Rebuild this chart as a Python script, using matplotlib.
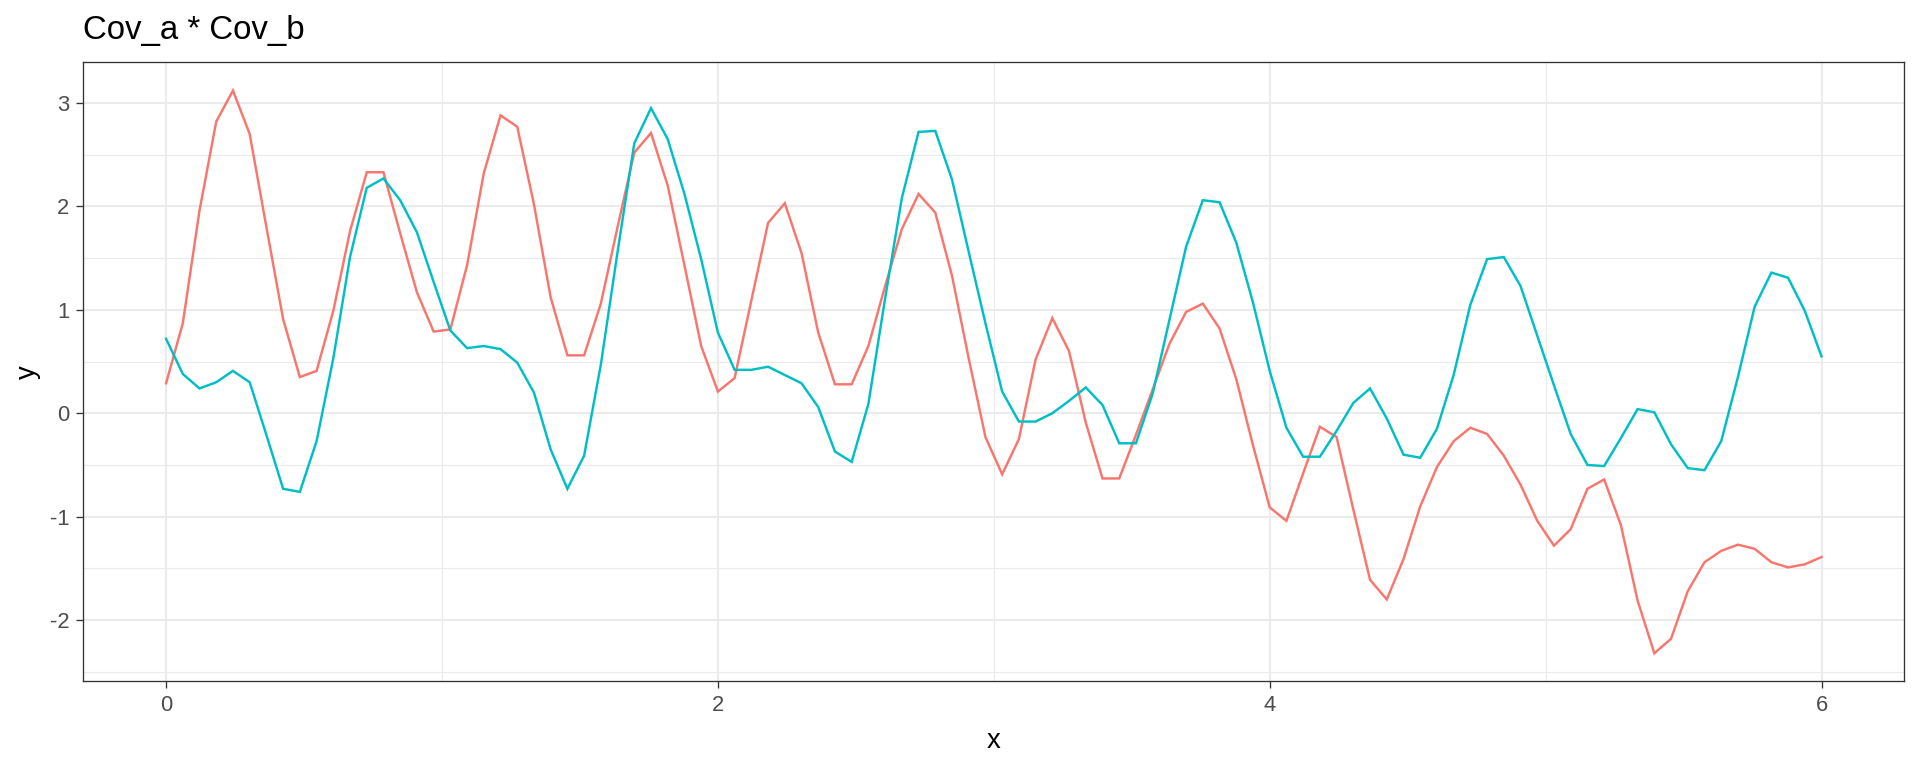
import numpy as np
import matplotlib
matplotlib.use("Agg")
import matplotlib.pyplot as plt

# ---- data ----
x_start, x_end, n_points = 0.0, 6.0, 100
x = np.linspace(x_start, x_end, n_points)

red_series = [
    0.29, 0.87, 1.96, 2.82, 3.12, 2.70, 1.80, 0.91, 0.35, 0.41,
    0.99, 1.76, 2.33, 2.33, 1.74, 1.17, 0.79, 0.81, 1.43, 2.32,
    2.88, 2.77, 2.02, 1.12, 0.56, 0.56, 1.06, 1.80, 2.52, 2.71,
    2.20, 1.43, 0.65, 0.21, 0.34, 1.09, 1.84, 2.03, 1.55, 0.78,
    0.28, 0.28, 0.65, 1.23, 1.78, 2.12, 1.94, 1.33, 0.53, -0.23,
    -0.59, -0.25, 0.52, 0.92, 0.60, -0.09, -0.63, -0.63, -0.21, 0.23,
    0.67, 0.98, 1.06, 0.82, 0.33, -0.31, -0.91, -1.04, -0.58, -0.13,
    -0.23, -0.93, -1.61, -1.80, -1.41, -0.90, -0.52, -0.27, -0.14, -0.20,
    -0.41, -0.69, -1.04, -1.28, -1.12, -0.73, -0.64, -1.08, -1.81, -2.32,
    -2.18, -1.72, -1.44, -1.33, -1.27, -1.31, -1.44, -1.49, -1.46, -1.39,
]

teal_series = [
    0.72, 0.38, 0.24, 0.30, 0.41, 0.30, -0.21, -0.73, -0.76, -0.27,
    0.53, 1.51, 2.18, 2.27, 2.06, 1.75, 1.27, 0.80, 0.63, 0.65,
    0.62, 0.49, 0.20, -0.35, -0.73, -0.41, 0.47, 1.56, 2.61, 2.95,
    2.65, 2.12, 1.49, 0.78, 0.42, 0.42, 0.45, 0.37, 0.29, 0.06,
    -0.37, -0.47, 0.09, 1.11, 2.08, 2.72, 2.73, 2.26, 1.56, 0.87,
    0.21, -0.08, -0.08, 0.00, 0.12, 0.25, 0.08, -0.29, -0.29, 0.19,
    0.90, 1.61, 2.06, 2.04, 1.65, 1.07, 0.41, -0.14, -0.42, -0.42,
    -0.17, 0.10, 0.24, -0.05, -0.40, -0.43, -0.15, 0.37, 1.05, 1.49,
    1.51, 1.23, 0.75, 0.27, -0.20, -0.50, -0.51, -0.24, 0.04, 0.01,
    -0.30, -0.53, -0.55, -0.27, 0.35, 1.03, 1.36, 1.31, 0.99, 0.55,
]

x_major_ticks = [0, 2, 4, 6]
x_minor_ticks = [1, 3, 5]
y_major_ticks = [-2, -1, 0, 1, 2, 3]
y_minor_ticks = [-2.5, -1.5, -0.5, 0.5, 1.5, 2.5]
title_text = "Cov_a * Cov_b"
x_label = "x"
y_label = "y"

# ---- style ----
plt.rcParams['font.family'] = ['Liberation Sans', 'DejaVu Sans']
plt.rcParams['axes.unicode_minus'] = False

fig = plt.figure(figsize=(19.2, 7.68), dpi=100)
W, H = 1920, 768
left, right, top, bottom = 83.3, 1904.3, 62.4, 681.4
ax = fig.add_axes([left / W, 1 - bottom / H, (right - left) / W, (bottom - top) / H])

ax.plot(x, red_series, color='#F8766D', lw=1.75, solid_joinstyle='miter', zorder=3)
ax.plot(x, teal_series, color='#00BFC4', lw=1.75, solid_joinstyle='miter', zorder=3)

x_span = x_end - x_start
ax.set_xlim(x_start - 0.05 * x_span, x_end + 0.05 * x_span)
all_y = np.concatenate([red_series, teal_series])
ymin, ymax = all_y.min(), all_y.max()
ax.set_ylim(ymin - 0.05 * (ymax - ymin), ymax + 0.05 * (ymax - ymin))

ax.set_xticks(x_major_ticks)
ax.set_xticks(x_minor_ticks, minor=True)
ax.set_yticks(y_major_ticks)
ax.set_yticks(y_minor_ticks, minor=True)
ax.set_xticklabels([str(t) for t in x_major_ticks])
ax.set_yticklabels([str(t) for t in y_major_ticks])

ax.grid(True, which='major', color='#EBEBEB', lw=1.5, zorder=0)
ax.grid(True, which='minor', color='#EBEBEB', lw=0.85, zorder=0)
ax.set_axisbelow(True)

for sp in ax.spines.values():
    sp.set_color('#333333')
    sp.set_linewidth(0.95)
    sp.set_zorder(4)

ax.tick_params(which='major', length=5.0, width=0.95, color='#333333',
               labelsize=15.8, labelcolor='#4D4D4D', pad=5.0)
ax.tick_params(which='minor', length=0)

ax.set_xlabel(x_label, fontsize=19.8, color='black')
ax.set_ylabel(y_label, fontsize=19.8, color='black')
ax.xaxis.label.set_va('baseline')
ax.xaxis.set_label_coords(0.5, -(748.3 - bottom) / (bottom - top))
ax.yaxis.label.set_va('baseline')
ax.yaxis.set_label_coords((35 - left) / (right - left), 0.5)

fig.text(left / W, 1 - 39 / H, title_text, fontsize=23.8, color='black',
         ha='left', va='baseline')

fig.savefig('out.png', dpi=100, facecolor='white')
